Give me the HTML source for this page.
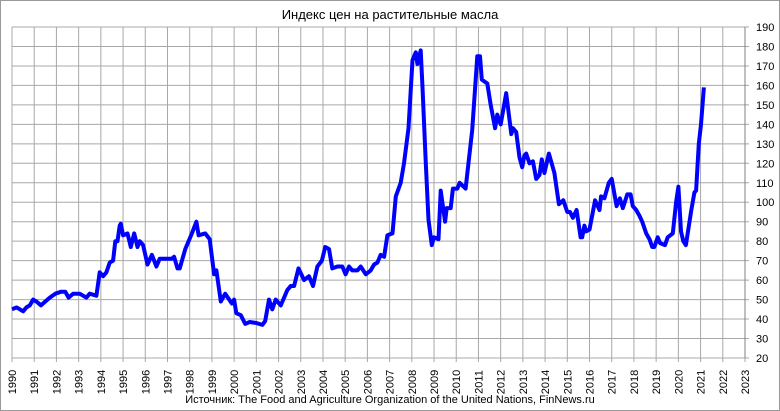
<!DOCTYPE html>
<html><head><meta charset="utf-8"><style>
html,body{margin:0;padding:0;background:#fff}
svg{display:block;font-family:"Liberation Sans",sans-serif}
</style></head><body>
<svg id="chart" width="780" height="411" viewBox="0 0 780 411">
<rect x="0.5" y="0.5" width="779" height="410" fill="#fff" stroke="#999"/>
<text x="390" y="19" text-anchor="middle" font-size="13" fill="#000">Индекс цен на растительные масла</text>
<g id="grid"></g>
<g id="xlabels"></g>
<g id="ylabels"></g>
<g id="series"></g>
<text x="390" y="403" text-anchor="middle" font-size="11" fill="#000">Источник: The Food and Agriculture Organization of the United Nations, FinNews.ru</text>
</svg>
<script>
const years=[1990,1991,1992,1993,1994,1995,1996,1997,1998,1999,2000,2001,2002,2003,2004,2005,2006,2007,2008,2009,2010,2011,2012,2013,2014,2015,2016,2017,2018,2019,2020,2021,2022,2023];
const yTicks=[20,30,40,50,60,70,80,90,100,110,120,130,140,150,160,170,180,190];
const dates=[1990,1990.2,1990.35,1990.5,1990.65,1990.8,1990.95,1991.1,1991.3,1991.5,1991.7,1991.95,1992.2,1992.4,1992.55,1992.75,1993.05,1993.35,1993.5,1993.8,1993.9,1993.95,1994.1,1994.25,1994.4,1994.55,1994.65,1994.75,1994.85,1994.9,1995.0,1995.2,1995.35,1995.5,1995.65,1995.75,1995.9,1996.1,1996.3,1996.5,1996.65,1996.9,1997.2,1997.3,1997.45,1997.55,1997.8,1998.1,1998.3,1998.4,1998.7,1998.9,1999.1,1999.2,1999.4,1999.6,1999.9,2000.0,2000.1,2000.3,2000.5,2000.7,2001,2001.27,2001.4,2001.57,2001.72,2001.87,2002.1,2002.4,2002.55,2002.7,2002.9,2003.15,2003.37,2003.55,2003.75,2003.95,2004.1,2004.27,2004.42,2004.65,2004.87,2005.02,2005.17,2005.32,2005.55,2005.7,2005.93,2006.15,2006.3,2006.45,2006.6,2006.75,2006.9,2007.13,2007.28,2007.5,2007.65,2007.85,2008.03,2008.18,2008.25,2008.4,2008.48,2008.63,2008.75,2008.9,2009.0,2009.2,2009.3,2009.5,2009.57,2009.75,2009.85,2010.05,2010.15,2010.42,2010.57,2010.72,2010.95,2011.07,2011.15,2011.4,2011.55,2011.75,2011.85,2011.93,2012.0,2012.25,2012.48,2012.55,2012.7,2012.85,2012.97,2013.07,2013.15,2013.3,2013.45,2013.6,2013.75,2013.85,2013.97,2014.17,2014.42,2014.62,2014.82,2015.0,2015.12,2015.25,2015.42,2015.6,2015.67,2015.77,2015.85,2016.0,2016.25,2016.45,2016.52,2016.67,2016.87,2017.0,2017.22,2017.37,2017.5,2017.7,2017.85,2017.95,2018.1,2018.25,2018.37,2018.55,2018.7,2018.82,2018.92,2019.07,2019.18,2019.4,2019.52,2019.75,2019.9,2020.0,2020.12,2020.22,2020.34,2020.57,2020.72,2020.8,2020.92,2021.02,2021.15];
const values=[45,46,45,44,46,47,50,49,47,49,51,53,54,54,51,53,53,51,53,52,60,64,62,64,69,70,80,80,88,89,83,84,77,84,77,80,78,68,73,67,71,71,71,72,66,66,76,84,90,83,84,81,63,65,49,53,48,50,43,42,37.5,38.5,38,37,39,50,45,50,47,55,57,57,66,60,62,57,67,70,77,76,66,67,67,63,67,65,65,67,63,65,68,69,73,72,83,84,103,110,120,138,173,177,171,178,159,120,91,78,82,81,106,90,97,97,107,107,110,107,122,137,175,175,163,161,150,138,145,142,140,156,135,138,136,123,118,124,125,120,121,112,114,122,115,125,115,99,101,95,95,92,96,82,82,88,85,86,101,96,103,102,110,112,98,102,97,104,104,98,96,93,90,84,81,77,77,82,79,78,82,84,100,108,85,80,78,95,105,106,130,140,159];
const NS="http://www.w3.org/2000/svg";
const X0=12,X1=745,Y0=358,Y1=27;
function xs(t){return X0+(t-1990)/(2023-1990)*(X1-X0);}
function ys(v){return Y0-(v-20)/(190-20)*(Y0-Y1);}
function mk(tag,attrs,parent){const e=document.createElementNS(NS,tag);for(const k in attrs)e.setAttribute(k,attrs[k]);parent.appendChild(e);return e;}
const grid=document.getElementById('grid'),xl=document.getElementById('xlabels'),yl=document.getElementById('ylabels'),se=document.getElementById('series');
years.forEach(y=>{
  const l=mk('line',{x1:xs(y),x2:xs(y),y1:Y1,y2:Y0+4,stroke:'#a8a8a8','stroke-width':1},grid);
  
  
  const t=mk('text',{x:0,y:0,'font-size':11,'text-anchor':'middle',transform:`translate(${xs(y)+4},${382}) rotate(-90)`},xl);
  t.textContent=y;
  
  
});
yTicks.forEach(v=>{
  const l=mk('line',{x1:X0,x2:X1+4,y1:ys(v),y2:ys(v),stroke:'#a8a8a8','stroke-width':1},grid);
  
  
  const t=mk('text',{x:756,y:ys(v)+4,'font-size':11},yl);
  t.textContent=v;
  
  
});
mk('line',{x1:X1,x2:X1,y1:Y1,y2:Y0,stroke:'#808080','stroke-width':1},grid);
let d='';
dates.forEach((t,i)=>{d+=(i?'L':'M')+xs(t).toFixed(1)+','+ys(values[i]).toFixed(1);});
const p=mk('path',{d:d,fill:'none',stroke:'#0000ff','stroke-width':4,'stroke-linejoin':'round'},se);


</script>
</body></html>
